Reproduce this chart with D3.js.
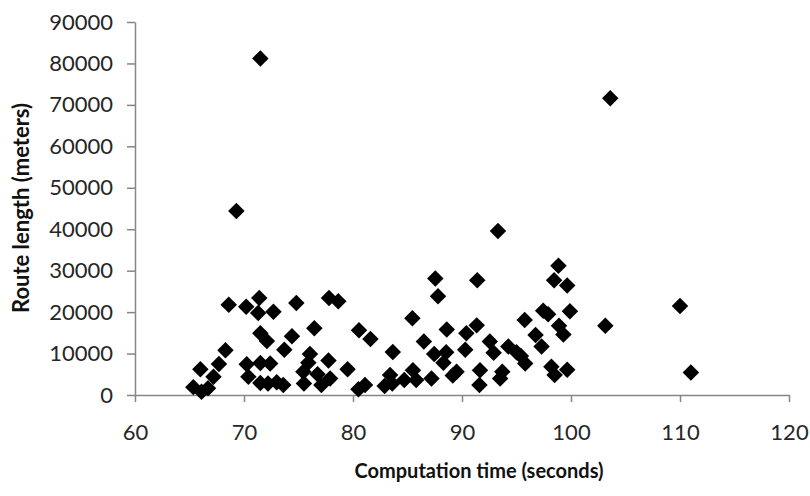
<!DOCTYPE html>
<html>
<head>
<meta charset="utf-8">
<script src="https://cdn.jsdelivr.net/npm/d3@7"></script>
<style>
  html, body { margin: 0; padding: 0; background: #fff; }
  svg { display: block; }
  .axis text { font-family: Lato, "Open Sans", sans-serif; font-size: 22px; fill: #262626; }
  .axis path, .axis line { stroke: #868686; stroke-width: 1.5; }
  .title { font-family: Lato, "Open Sans", sans-serif; font-weight: bold; fill: #111; }
</style>
</head>
<body>
<svg id="chart" width="810" height="496"></svg>
<script>
// Computation time (seconds) of each run
const computeTime = [
  65.35, 66.1, 66.7, 66.0, 67.2, 67.7, 68.3, 68.6, 69.3,
  70.2, 71.4, 71.3, 72.7, 71.5, 72.1, 70.25, 70.4, 71.5, 72.4, 71.5, 72.2, 73.0, 73.6, 71.5,
  73.7, 74.4, 74.8, 76.45, 77.8, 78.65, 76.05, 75.9, 75.45, 75.5, 76.75, 77.1, 77.9, 77.75, 79.5,
  80.55, 81.6, 80.5, 81.1, 82.9, 83.4, 83.6, 83.65, 84.7, 85.5, 85.8, 85.45, 86.5, 87.2,
  87.55, 87.8, 87.45, 88.55, 88.3, 88.6, 89.5, 89.15, 90.3, 90.4, 91.35, 91.4, 91.65, 91.6,
  93.3, 92.55, 92.9, 93.7, 93.5, 94.25, 95.0, 95.4, 95.8, 95.75, 96.75, 97.3, 97.45, 97.9,
  98.85, 98.45, 99.65, 99.9, 98.9, 99.3, 98.2, 98.5, 99.65,
  103.15, 103.6, 110.0, 111.0
];

// Route length (meters) found by each run
const routeLength = [
  1900, 800, 1600, 6200, 4400, 7500, 10800, 21800, 44400,
  21300, 23400, 19800, 20100, 14900, 13000, 7400, 4400, 7700, 7600, 2900, 2800, 3100, 2400, 81200,
  10900, 14200, 22200, 16100, 23400, 22600, 9900, 7800, 5600, 2800, 5000, 2400, 4000, 8300, 6200,
  15600, 13500, 1400, 2400, 2200, 4800, 2800, 10400, 3600, 6000, 3600, 18500, 12900, 4000,
  28100, 23800, 9900, 10300, 7800, 15800, 5600, 4700, 10900, 14900, 16800, 27700, 6000, 2400,
  39600, 12900, 10200, 5600, 4000, 11700, 10300, 9400, 7600, 18100, 14500, 11700, 20300, 19500,
  31200, 27700, 26400, 20200, 16700, 14600, 6800, 4800, 6100,
  16700, 71600, 21500, 5400
];

const xTicks = [60, 70, 80, 90, 100, 110, 120];
const yTicks = [0, 10000, 20000, 30000, 40000, 50000, 60000, 70000, 80000, 90000];

const xLabel = "Computation time (seconds)";
const yLabel = "Route length (meters)";

const svg = d3.select("#chart");
const plot = { left: 135, right: 789, top: 22, bottom: 395 };

const x = d3.scaleLinear().domain([60, 120]).range([plot.left, plot.right]);
const y = d3.scaleLinear().domain([0, 90000]).range([plot.bottom, plot.top]);

// Y axis
svg.append("g")
  .attr("class", "axis")
  .attr("transform", `translate(${plot.left},0)`)
  .call(d3.axisLeft(y).tickValues(yTicks).tickFormat(d3.format("d"))
    .tickSizeInner(8).tickSizeOuter(0).tickPadding(14));

// X axis
svg.append("g")
  .attr("class", "axis")
  .attr("transform", `translate(0,${plot.bottom})`)
  .call(d3.axisBottom(x).tickValues(xTicks).tickFormat(d3.format("d"))
    .tickSizeInner(7).tickSizeOuter(0).tickPadding(22));

// Diamond markers
const points = computeTime.map((t, i) => ({ t, len: routeLength[i] }));
const diamond = d3.symbol().type(d3.symbolSquare).size(136);

svg.append("g")
  .selectAll("path")
  .data(points)
  .join("path")
  .attr("d", diamond)
  .attr("transform", d => `translate(${x(d.t)},${y(d.len)}) rotate(45)`)
  .attr("fill", "#000");

// Axis titles
svg.append("text")
  .attr("class", "title")
  .attr("x", 479)
  .attr("y", 478)
  .attr("text-anchor", "middle")
  .style("font-size", "20px")
  .text(xLabel);

svg.append("text")
  .attr("class", "title")
  .attr("transform", "translate(29,208) rotate(-90)")
  .attr("text-anchor", "middle")
  .style("font-size", "22px")
  .text(yLabel);
</script>
</body>
</html>
